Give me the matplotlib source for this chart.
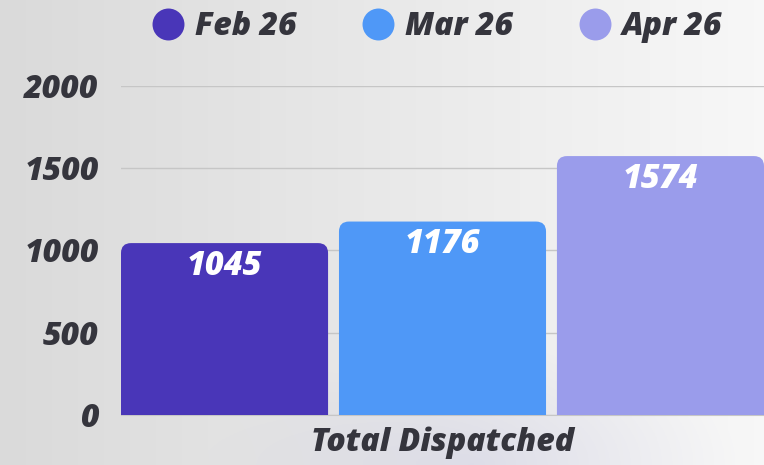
import numpy as np
import matplotlib
matplotlib.use("Agg")
import matplotlib.pyplot as plt
from matplotlib.patches import FancyBboxPatch
from matplotlib.lines import Line2D

# ---- data ----
categories = ["Total Dispatched"]
series_names = ["Feb 26", "Mar 26", "Apr 26"]
feb_values = [1045]
mar_values = [1176]
apr_values = [1574]
y_ticks = [0, 500, 1000, 1500, 2000]

series_values = [feb_values, mar_values, apr_values]
colors = ["#4936b8", "#4f98f7", "#9a9ceb"]
text_dark = "#35353d"

FONT = "Open Sans"
WEIGHT = 800
FS = 23
plt.rcParams["font.family"] = [FONT, "DejaVu Sans"]

W, H = 764, 465
fig = plt.figure(figsize=(W / 100, H / 100), dpi=100)

# background gradient
bg = fig.add_axes([0, 0, 1, 1], zorder=-10)
bg.axis("off")
xx = np.linspace(0, 1, 400)
yy = np.linspace(0, 1, 250)
X, Y = np.meshgrid(xx, yy)
left_c = np.array([0.855, 0.855, 0.855])
right_c = np.array([0.970, 0.970, 0.970])
img = left_c[None, None, :] * (1 - X[..., None]) + right_c[None, None, :] * X[..., None]
d = np.sqrt(((X - 0.62) / 0.35) ** 2 + ((Y - 1.0) / 0.25) ** 2)
tint = np.clip(1 - d, 0, 1)[..., None] * 0.06
img = img - tint * np.array([1.0, 1.0, 0.3])[None, None, :]
bg.imshow(img, extent=[0, 1, 0, 1], aspect="auto", origin="upper")
bg.set_xlim(0, 1)
bg.set_ylim(0, 1)

# main axes
ax_l, ax_r = 121 / W, 1.0
ax_b, ax_t = (H - 415) / H, (H - 86) / H
ax = fig.add_axes([ax_l, ax_b, ax_r - ax_l, ax_t - ax_b])
ax.set_facecolor("none")

n = len(series_names)
width = 0.95
offsets = np.arange(n) - (n - 1) / 2
cat_x = np.arange(len(categories))
xmin, xmax = offsets[0] - width / 2, offsets[-1] + width / 2
ax.set_xlim(xmin, xmax)
ax.set_ylim(0, 2000)

ax_w_px = (ax_r - ax_l) * W
ax_h_px = (ax_t - ax_b) * H
x_per_px = (xmax - xmin) / ax_w_px
y_per_px = 2000 / ax_h_px
aspect = y_per_px / x_per_px
r_px = 10
r_x = r_px * x_per_px
r_y = r_px * y_per_px

for i, (name, vals, c) in enumerate(zip(series_names, series_values, colors)):
    bars = ax.bar(cat_x + offsets[i], vals, width=width, color=c, visible=False)
    for rect, v in zip(bars.patches, vals):
        x0 = rect.get_x()
        w = rect.get_width()
        patch = FancyBboxPatch((x0, -r_y), w, rect.get_height() + r_y,
                               boxstyle=f"round,pad=0,rounding_size={r_x}",
                               mutation_aspect=aspect, facecolor=c,
                               edgecolor="none", zorder=3)
        ax.add_patch(patch)
        ax.annotate(f"{v}", xy=(x0 + w / 2, v), xytext=(0, -16.5),
                    textcoords="offset points", ha="center", va="center",
                    color="white", fontsize=FS + 0.5, fontweight=WEIGHT,
                    fontstyle="italic", zorder=4)

ax.set_yticks(y_ticks)
ax.set_yticklabels([str(t) for t in y_ticks])
ax.set_xticks(cat_x)
ax.set_xticklabels(categories)
ax.tick_params(axis="y", length=0, pad=16, labelsize=FS, labelcolor=text_dark)
ax.tick_params(axis="x", length=0, pad=8, labelsize=FS, labelcolor=text_dark)
for lab in ax.get_yticklabels() + ax.get_xticklabels():
    lab.set_fontweight(WEIGHT)
    lab.set_fontstyle("italic")

ax.grid(axis="y", color="#c6c6c6", linewidth=1, zorder=0)
ax.set_axisbelow(True)
for s in ["top", "right", "left"]:
    ax.spines[s].set_visible(False)
ax.spines["bottom"].set_color("#c6c6c6")

handles = [Line2D([], [], marker="o", linestyle="none", markersize=23,
                  markerfacecolor=c, markeredgecolor="none") for c in colors]
leg = fig.legend(handles, series_names, loc="center", ncol=3,
                 bbox_to_anchor=(437 / W, 1 - 27 / H), frameon=False,
                 prop={"size": FS, "weight": WEIGHT, "style": "italic"},
                 handletextpad=0.35, columnspacing=2.05, handlelength=1.0)
for t in leg.get_texts():
    t.set_color(text_dark)

fig.savefig("out.png", dpi=100)
